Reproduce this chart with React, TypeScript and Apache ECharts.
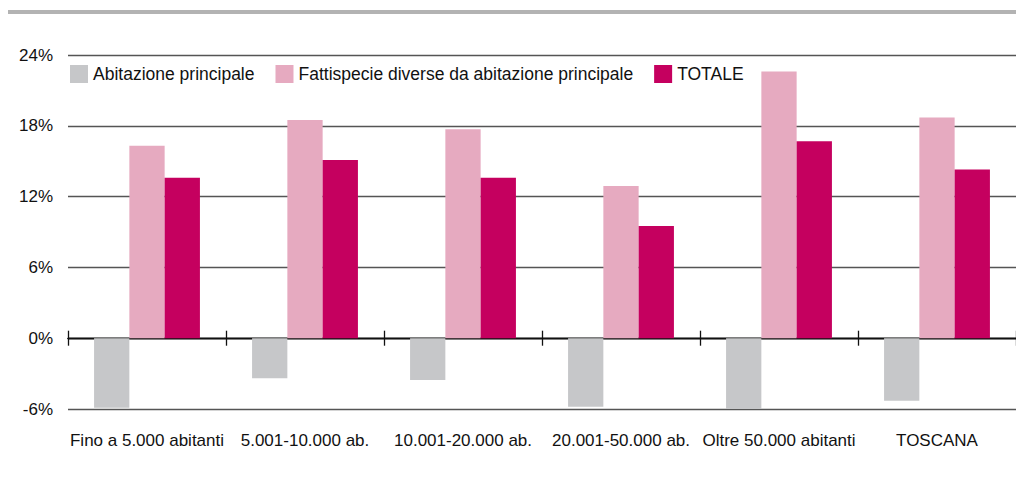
import React, { useEffect, useRef } from "react";
import * as echarts from "echarts";

const categories = [
  "Fino a 5.000 abitanti",
  "5.001-10.000 ab.",
  "10.001-20.000 ab.",
  "20.001-50.000 ab.",
  "Oltre 50.000 abitanti",
  "TOSCANA",
];
const seriesNames = [
  "Abitazione principale",
  "Fattispecie diverse da abitazione principale",
  "TOTALE",
];
const abitazionePrincipale = [-5.9, -3.4, -3.55, -5.8, -6.15, -5.3];
const fattispecieDiverse = [16.3, 18.5, 17.7, 12.9, 22.6, 18.7];
const totale = [13.6, 15.1, 13.6, 9.5, 16.7, 14.3];
const yTicks = { min: -6, max: 24, interval: 6 };

const FONT = "'Liberation Sans', Arial, sans-serif";

export default function App() {
  const ref = useRef<HTMLDivElement>(null);
  useEffect(() => {
    if (!ref.current) return;
    const chart = echarts.init(ref.current, undefined, { renderer: "svg" });
    const colors = ["#C6C7C9", "#E6AAC0", "#C5005F"];
    const values = [abitazionePrincipale, fattispecieDiverse, totale];
    const tickStyle = { color: "#111", width: 1.3 };
    chart.setOption({
      animation: false,
      textStyle: { fontFamily: FONT },
      graphic: [
        {
          type: "rect",
          shape: { x: 8, y: 10, width: 1008, height: 4 },
          style: { fill: "#B3B3B3" },
          silent: true,
        },
      ],
      legend: {
        left: 70,
        top: 65,
        padding: 0,
        itemWidth: 18,
        itemHeight: 18,
        itemGap: 21,
        icon: "rect",
        textStyle: { fontFamily: FONT, fontSize: 17.5, color: "#111" },
        data: seriesNames,
      },
      grid: { left: 68, top: 55, width: 953, height: 354 },
      xAxis: [
        {
          type: "category",
          data: categories,
          position: "bottom",
          axisLine: { show: false, onZero: false },
          axisTick: { show: false },
          axisLabel: {
            interval: 0,
            fontFamily: FONT,
            fontSize: 17,
            color: "#111",
            margin: 23,
          },
        },
        {
          type: "category",
          data: categories,
          position: "bottom",
          axisLine: { show: true, onZero: true, onZeroAxisIndex: 0, lineStyle: tickStyle },
          axisTick: { show: true, length: 7.5, lineStyle: tickStyle },
          axisLabel: { show: false },
        },
        {
          type: "category",
          data: categories,
          position: "bottom",
          axisLine: { show: true, onZero: true, onZeroAxisIndex: 1, lineStyle: tickStyle },
          axisTick: { show: true, inside: true, length: 7.5, lineStyle: tickStyle },
          axisLabel: { show: false },
        },
      ],
      yAxis: [
        {
          type: "value",
          min: yTicks.min,
          max: yTicks.max,
          interval: yTicks.interval,
          axisLine: { show: false },
          axisTick: { show: false },
          axisLabel: {
            fontFamily: FONT,
            fontSize: 17,
            color: "#111",
            margin: 15,
            formatter: (v: number) => `${v}%`,
          },
          splitLine: { lineStyle: { color: "#555", width: 1.3 } },
        },
        {
          type: "value",
          min: yTicks.min,
          max: yTicks.max,
          interval: yTicks.interval,
          show: false,
          splitLine: { show: false },
        },
      ],
      series: seriesNames.map((name, i) => ({
        name,
        type: "bar",
        xAxisIndex: 0,
        yAxisIndex: 0,
        data: values[i],
        itemStyle: { color: colors[i] },
        barGap: "0%",
        barCategoryGap: "33%",
      })),
    });
    return () => chart.dispose();
  }, []);
  return (
    <div
      ref={ref}
      style={{ position: "absolute", left: 0, top: 0, width: 1016, height: 477 }}
    />
  );
}
